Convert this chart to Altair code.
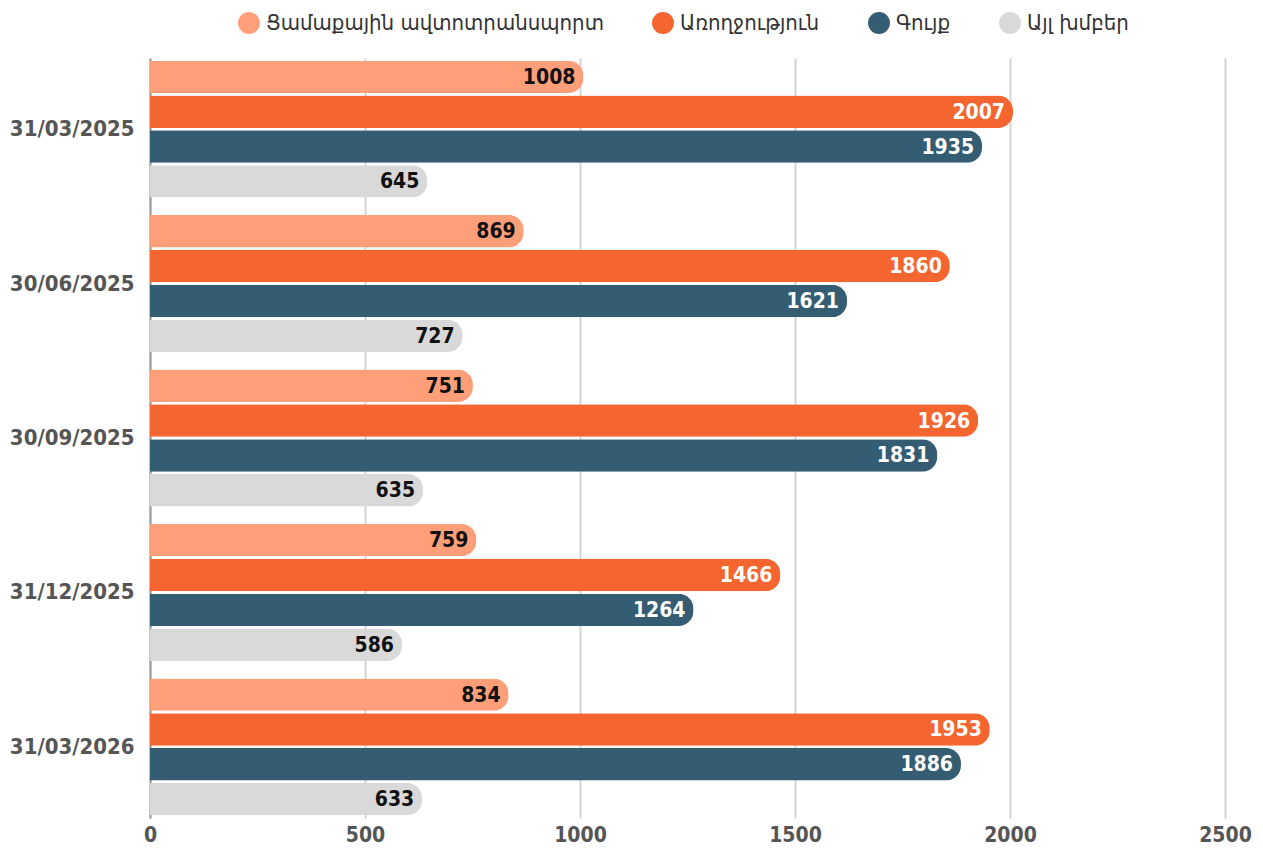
import altair as alt
import pandas as pd

dates = ["31/03/2025", "30/06/2025", "30/09/2025", "31/12/2025", "31/03/2026"]
series = ["Ցամաքային ավտոտրանսպորտ", "Առողջություն", "Գույք", "Այլ խմբեր"]
colors = ["#FF9F7A", "#F46530", "#345C72", "#D9D9D9"]
text_colors = ["#111111", "#FFFFFF", "#FFFFFF", "#111111"]

v_transport = [1008, 869, 751, 759, 834]
v_health = [2007, 1860, 1926, 1466, 1953]
v_property = [1935, 1621, 1831, 1264, 1886]
v_other = [645, 727, 635, 586, 633]

rows = []
for i, d in enumerate(dates):
    for s, vals in zip(series, [v_transport, v_health, v_property, v_other]):
        rows.append({"date": d, "series": s, "value": vals[i]})
df = pd.DataFrame(rows)

FONT = "DejaVu Sans Condensed, DejaVu Sans"

y = alt.Y("date:N", sort=dates, title=None,
          scale=alt.Scale(paddingInner=0.113, paddingOuter=0.017),
          axis=alt.Axis(labelFont=FONT, labelFontSize=22, labelFontWeight="bold",
                        labelColor="#555555", ticks=False, labelPadding=16,
                        domain=True, domainColor="#999999", domainWidth=2, grid=False))
yo = alt.YOffset("series:N", sort=series, scale=alt.Scale(paddingInner=0.07))
x = alt.X("value:Q", title=None,
          scale=alt.Scale(domain=[0, 2500], nice=False),
          axis=alt.Axis(values=[0, 500, 1000, 1500, 2000, 2500], format="d",
                        labelFont=FONT, labelFontSize=21, labelFontWeight="bold",
                        labelColor="#555555", ticks=False, domain=False, grid=True,
                        gridColor="#D4D4D4", gridWidth=2, labelPadding=6,
                        labelFlush=False))

bars = alt.Chart(df).mark_bar(cornerRadiusEnd=15).encode(
    x=x, y=y, yOffset=yo,
    color=alt.Color("series:N", sort=series,
                    scale=alt.Scale(domain=series, range=colors),
                    legend=alt.Legend(title=None, orient="none", direction="horizontal",
                                      legendX=88, legendY=-46,
                                      symbolType="circle", symbolSize=480,
                                      symbolStrokeWidth=0, labelFont=FONT,
                                      labelFontSize=22, labelColor="#333333",
                                      labelLimit=0, columnPadding=48,
                                      labelOffset=6)),
)

labels = alt.Chart(df).mark_text(align="right", baseline="middle", dx=-8, dy=1,
                                 font=FONT, fontSize=21, fontWeight="bold").encode(
    x=x, y=y, yOffset=yo,
    text=alt.Text("value:Q", format="d"),
    color=alt.Color("series:N", sort=series,
                    scale=alt.Scale(domain=series, range=text_colors), legend=None),
)

chart = alt.layer(bars, labels).resolve_scale(color="independent").properties(
    width=1075, height=760,
    autosize=alt.AutoSizeParams(type="none"),
    padding={"left": 142, "top": 50, "right": 30, "bottom": 30},
    view=alt.ViewBackground(stroke=None, strokeWidth=0),
).configure_view(strokeWidth=0, stroke=None).configure(background="white")

chart.save("out.html", embed_options={"renderer": "svg", "actions": False})
